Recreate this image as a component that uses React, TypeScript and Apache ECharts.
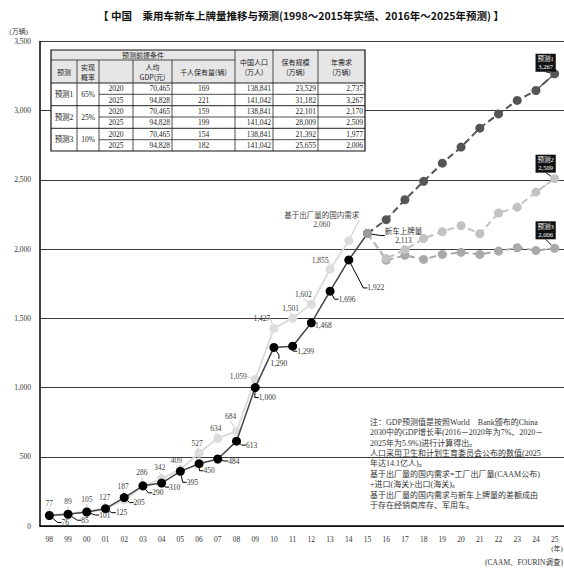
import React, { useEffect, useRef } from 'react';
import * as echarts from 'echarts';

// ---------- data ----------
const years = ['98','99','00','01','02','03','04','05','06','07','08','09','10','11','12','13','14','15','16','17','18','19','20','21','22','23','24','25'];
// 新车上牌量 1998-2015
const registrations = [76, 85, 101, 125, 205, 290, 310, 395, 450, 484, 613, 1000, 1290, 1299, 1468, 1696, 1922, 2113];
// 基于出厂量的国内需求 1998-2014
const domesticDemand = [77, 89, 105, 127, 187, 286, 342, 409, 527, 634, 684, 1059, 1427, 1501, 1602, 1855, 2060];
// forecasts 2015-2025
const forecast1 = [2113, 2213, 2357, 2490, 2621, 2737, 2874, 2977, 3074, 3146, 3267];
const forecast2 = [2113, 1932, 1996, 2076, 2126, 2170, 2112, 2261, 2304, 2412, 2509];
const forecast3 = [2113, 1920, 1955, 1926, 1962, 1977, 1962, 1986, 2010, 1991, 2006];
const forecastNames = ['预测1', '预测2', '预测3'];

// table
const scenarios = ['预测1', '预测2', '预测3'];
const probabilities = ['65%', '25%', '10%'];
const tableYears = ['2020', '2025'];
const gdpPerCapita = ['70,465', '94,828'];
const carsPerThousand = [['169', '221'], ['159', '199'], ['154', '182']];
const population = ['138,841', '141,042'];
const stock = [['23,529', '31,182'], ['22,101', '28,009'], ['21,392', '25,655']];
const annualDemand = [['2,737', '3,267'], ['2,170', '2,509'], ['1,977', '2,006']];

const titleText = '【 中国　乘用车新车上牌量推移与预测(1998～2015年实绩、2016年～2025年预测) 】';
const noteLines = [
  '注：GDP预测值是按照World　Bank颁布的China',
  '2030中的GDP增长率(2016－2020年为7%、2020－',
  '2025年为5.9%)进行计算得出。',
  '人口采用卫生和计划生育委员会公布的数值(2025',
  '年达14.1亿人)。',
  '基于出厂量的国内需求=工厂出厂量(CAAM公布)',
  '+进口(海关)-出口(海关)。',
  '基于出厂量的国内需求与新车上牌量的差额成由',
  '于存在经销商库存、军用车。',
];
const sourceText = '(CAAM、FOURIN调查)';

// ---------- label layout offsets (px, label centre relative to point) ----------
const regOffsets = [[16,7],[17,6],[18,3],[16,4],[15,5],[15,7],[13,4],[12,11],[10,7],[16,2],[15,4],[12,10],[5,16],[13,5],[12,3],[17,8],[27,28],[36,2]];
const demOffsets = [[0,-12],[0,-12],[0,-12],[-1,-11],[-1,-14],[-1,-14],[-2,-11],[-4,-9],[-2,-10],[-2,-10],[-6,-15],[-17,-3],[-12,-10],[-2,-10],[-8,-10],[-10,-9],[-27,-21]];
const fcOffsets = [[-9,-11],[-9,-15],[-9,-18]];

const serif = "'Liberation Serif','Noto Sans CJK SC',serif";
const sans = "'Noto Sans CJK SC','Liberation Sans',sans-serif";
const fmt = (v: number) => Number(v).toLocaleString('en-US');

function buildTable(): any[] {
  const colX = [51, 77, 99, 133, 172, 235, 273, 318, 365];
  const rowY = [50, 60, 83, 94.3, 105.7, 117, 128.3, 139.7, 151];
  const els: any[] = [];
  const L = colX[0], R = colX[8], T = rowY[0], B = rowY[8];
  els.push({ type: 'rect', shape: { x: L, y: T, width: R - L, height: B - T }, style: { fill: '#fff' }, z: 10 });
  els.push({ type: 'rect', shape: { x: L, y: T, width: R - L, height: rowY[2] - T }, style: { fill: '#e6e6e6' }, z: 10 });
  const line = (x1: number, y1: number, x2: number, y2: number, w = 0.8) =>
    els.push({ type: 'line', shape: { x1, y1, x2, y2 }, style: { stroke: '#222', lineWidth: w }, z: 11 });
  line(L, rowY[1], colX[5], rowY[1]);
  line(L, rowY[2], R, rowY[2], 1);
  line(L, rowY[4], R, rowY[4], 1);
  line(L, rowY[6], R, rowY[6], 1);
  [3, 5, 7].forEach((r) => line(colX[2], rowY[r], R, rowY[r]));
  [1, 2, 3, 4].forEach((c) => line(colX[c], rowY[1], colX[c], B));
  [5, 6, 7].forEach((c) => line(colX[c], T, colX[c], B));
  els.push({ type: 'rect', shape: { x: L, y: T, width: R - L, height: B - T }, style: { fill: 'none', stroke: '#111', lineWidth: 1.2 }, z: 12 });

  const txt = (text: string, x: number, y: number, align: string, family = serif, lh = 8, size = 7.5) =>
    els.push({ type: 'text', z: 13, style: { text, x, y, textAlign: align, textVerticalAlign: 'middle', fontSize: size, fontFamily: family, lineHeight: lh, fill: '#222' } });
  const cx = (c: number) => (colX[c] + colX[c + 1]) / 2;
  txt('预测前提条件', (colX[0] + colX[5]) / 2, (rowY[0] + rowY[1]) / 2, 'center', sans, 8, 7);
  const h2 = (rowY[1] + rowY[2]) / 2;
  txt('预测', cx(0), h2, 'center', sans, 8, 7);
  txt('实现\n概率', cx(1), h2, 'center', sans, 10, 7);
  txt('人均\nGDP(元)', cx(3), h2, 'center', sans, 10, 7);
  txt('千人保有量(辆)', cx(4), h2, 'center', sans, 8, 7);
  const h1 = (rowY[0] + rowY[2]) / 2;
  txt('中国人口\n(万人)', cx(5), h1, 'center', sans, 10, 7);
  txt('保有规模\n(万辆)', cx(6), h1, 'center', sans, 10, 7);
  txt('年需求\n(万辆)', cx(7), h1, 'center', sans, 10, 7);
  for (let g = 0; g < 3; g++) {
    const gy = rowY[2 + g * 2 + 1];
    txt(scenarios[g], cx(0), gy, 'center');
    txt(probabilities[g], cx(1), gy, 'center');
    for (let k = 0; k < 2; k++) {
      const r = 2 + g * 2 + k;
      const y = (rowY[r] + rowY[r + 1]) / 2;
      txt(tableYears[k], cx(2), y, 'center');
      txt(gdpPerCapita[k], colX[4] - 2, y, 'right');
      txt(carsPerThousand[g][k], cx(4), y, 'center');
      txt(population[k], colX[6] - 2, y, 'right');
      txt(stock[g][k], colX[7] - 2, y, 'right');
      txt(annualDemand[g][k], colX[8] - 2, y, 'right');
    }
  }
  return els;
}

function layoutFrom(offsets: number[][]) {
  return (p: any) => {
    const o = offsets[p.dataIndex];
    if (!o || !p.rect) return {};
    return {
      x: p.rect.x + p.rect.width / 2 + o[0],
      y: p.rect.y + p.rect.height / 2 + o[1],
      align: 'center',
      verticalAlign: 'middle',
    };
  };
}

function buildOption(): any {
  const pad = new Array(17).fill(null);
  const fcData = [forecast1, forecast2, forecast3];
  const fcColors = ['#555555', '#c2c2c2', '#a9a9a9'];
  const fcSeries = fcData.map((arr, s) => {
    const data: any[] = pad.concat(
      arr.map((v, i) => {
        if (i === 0) return { value: v, itemStyle: { color: '#999' } };
        if (i === arr.length - 1)
          return {
            value: v,
            label: {
              show: true,
              formatter: forecastNames[s] + '\n' + fmt(v),
              backgroundColor: '#111',
              color: '#fff',
              fontSize: 6.5,
              lineHeight: 8,
              padding: [1, 2, 1, 2],
              fontFamily: serif,
            },
          };
        return v;
      })
    );
    const n = data.length;
    return {
      type: 'line',
      name: forecastNames[s],
      data,
      z: 4 - s * 0.1,
      symbol: 'circle',
      symbolSize: 9,
      itemStyle: { color: fcColors[s] },
      lineStyle: { color: fcColors[s], width: 2, type: [7, 4] },
      label: { show: false },
      labelLine: { show: true, length2: 0, lineStyle: { color: '#111', width: 1 } },
      labelLayout: (p: any) => {
        if (p.dataIndex !== n - 1 || !p.rect) return {};
        const o = fcOffsets[s];
        return { x: p.rect.x + p.rect.width / 2 + o[0], y: p.rect.y + p.rect.height / 2 + o[1], align: 'center', verticalAlign: 'middle' };
      },
      markLine: {
        silent: true,
        symbol: ['none', 'arrow'],
        symbolSize: [0, 7],
        label: { show: false },
        lineStyle: { color: fcColors[s], type: 'solid', width: 1.2 },
        data: [[{ coord: [n - 2, arr[arr.length - 2]] }, { coord: [n - 1, arr[arr.length - 1]] }]],
      },
    };
  });

  return {
    animation: false,
    backgroundColor: '#fff',
    grid: { left: 40, right: 0, top: 41.5, bottom: 45 },
    xAxis: {
      type: 'category',
      data: years,
      boundaryGap: true,
      axisLine: { lineStyle: { color: '#000', width: 1.5 } },
      axisTick: { show: false },
      axisLabel: { interval: 0, fontSize: 7.5, fontFamily: serif, color: '#333', margin: 10 },
      splitLine: { show: false },
    },
    yAxis: {
      type: 'value',
      min: 0,
      max: 3500,
      interval: 500,
      name: '(万辆)',
      nameLocation: 'end',
      nameGap: 6,
      nameTextStyle: { align: 'right', fontSize: 7, fontFamily: serif, color: '#333', padding: [0, 12, 0, 0] },
      axisLine: { show: true, lineStyle: { color: '#000', width: 1.5 } },
      axisTick: { show: false },
      axisLabel: { formatter: (v: number) => fmt(v), fontSize: 7.5, fontFamily: serif, color: '#333', margin: 9 },
      splitLine: { show: true, lineStyle: { color: '#3a3a3a', width: 1 } },
    },
    graphic: [
      { type: 'text', style: { text: titleText, x: 301, y: 15, textAlign: 'center', textVerticalAlign: 'middle', fontSize: 10.5, fontWeight: 'bold', fontFamily: sans, fill: '#111' } },
      ...buildTable(),
      { type: 'text', style: { text: noteLines.join('\n'), x: 370, y: 417, textAlign: 'left', textVerticalAlign: 'top', fontSize: 8, lineHeight: 10.4, fontFamily: serif, fill: '#333' } },
      { type: 'text', style: { text: '(年)', x: 557, y: 549, textAlign: 'center', textVerticalAlign: 'middle', fontSize: 7, fontFamily: serif, fill: '#333' } },
      { type: 'text', style: { text: sourceText, x: 563, y: 562, textAlign: 'right', textVerticalAlign: 'middle', fontSize: 7.5, fontFamily: serif, fill: '#333' } },
    ],
    series: [
      {
        type: 'line',
        name: '基于出厂量的国内需求',
        data: domesticDemand,
        z: 2,
        symbol: 'circle',
        symbolSize: 9,
        itemStyle: { color: '#dcdcdc' },
        lineStyle: { color: '#dcdcdc', width: 2 },
        label: {
          show: true,
          formatter: (p: any) => (p.dataIndex === domesticDemand.length - 1 ? '基于出厂量的国内需求\n' : '') + fmt(p.value),
          fontSize: 7.5,
          lineHeight: 9,
          fontFamily: serif,
          color: '#444',
        },
        labelLine: { show: true, length2: 0, lineStyle: { color: '#c8c8c8', width: 1 } },
        labelLayout: layoutFrom(demOffsets),
      },
      {
        type: 'line',
        name: '新车上牌量',
        data: registrations.map((v, i) => (i === registrations.length - 1 ? { value: v, itemStyle: { color: '#999' } } : v)),
        z: 3,
        symbol: 'circle',
        symbolSize: 9,
        itemStyle: { color: '#000' },
        lineStyle: { color: '#444', width: 1.5 },
        label: {
          show: true,
          formatter: (p: any) => (p.dataIndex === registrations.length - 1 ? '新车上牌量\n' : '') + fmt(p.value),
          fontSize: 7.5,
          lineHeight: 9,
          fontFamily: serif,
          color: '#333',
        },
        labelLine: { show: true, length2: 4, lineStyle: { color: '#000', width: 1 } },
        labelLayout: layoutFrom(regOffsets),
      },
      ...fcSeries,
    ],
  };
}

export default function App() {
  const ref = useRef<HTMLDivElement>(null);
  useEffect(() => {
    if (!ref.current) return;
    const chart = echarts.init(ref.current, null, { renderer: 'svg' });
    chart.setOption(buildOption());
    return () => chart.dispose();
  }, []);
  return <div ref={ref} style={{ position: 'absolute', left: 0, top: 0, width: 564, height: 571, background: '#fff' }} />;
}
